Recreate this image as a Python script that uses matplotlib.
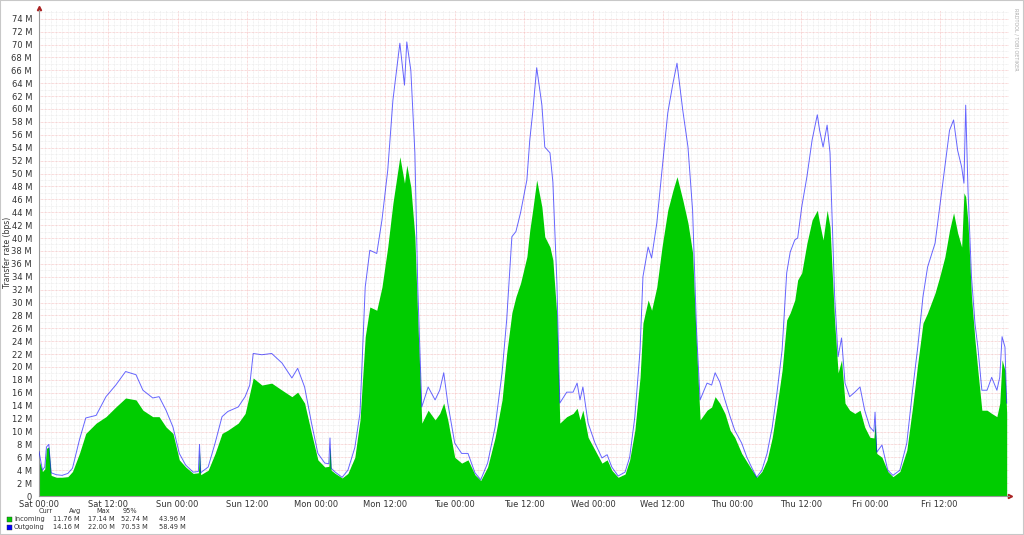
"""
Weekly traffic graph (rrdtool style) - incoming area + outgoing line
"""

import numpy as np
import matplotlib
matplotlib.use("Agg")
import matplotlib.pyplot as plt
from matplotlib.ticker import MultipleLocator, FixedLocator

# ============================================
# DATA (values in Mbps, time in hours since Sat 00:00)
# ============================================
hours = [
    0.0, 0.6, 1.0, 1.3, 1.7, 2.1, 3.0, 4.0, 5.0, 5.8, 7.0, 8.1, 9.9, 11.6, 13.3,
    15.0, 16.8, 18.0, 19.7, 20.8, 22.0, 23.2, 24.3, 25.4, 26.7, 27.6, 27.8, 28.0,
    29.3, 30.5, 31.7, 32.7, 34.5, 35.7, 36.5, 37.1, 38.6, 40.3, 42.1, 43.8, 44.8,
    46.0, 47.2, 48.3, 49.5, 50.2, 50.4, 50.6, 51.3, 52.5, 53.5, 54.7, 55.6, 56.5,
    57.3, 58.5, 59.4, 60.4, 61.3, 62.5, 63.3, 63.7, 64.4, 65.1, 65.6, 66.3, 67.4,
    68.6, 69.4, 70.1, 70.8, 72.0, 73.2, 74.3, 75.5, 76.5, 77.7, 79.0, 80.2, 81.0,
    81.9, 82.6, 83.4, 84.5, 85.0, 85.5, 86.2, 87.1, 87.6, 88.5, 89.0, 89.7, 90.2,
    91.4, 92.5, 93.2, 93.7, 94.2, 95.1, 96.3, 97.5, 98.4, 99.2, 100.3, 101.5,
    102.3, 103.2, 104.1, 104.6, 105.5, 106.1, 107.0, 107.9, 108.9, 109.8, 110.5,
    111.5, 112.4, 113.2, 113.9, 114.5, 115.7, 116.5, 117.1, 117.9, 118.8, 119.7,
    120.5, 121.7, 122.6, 123.5, 124.3, 125.2, 126.1, 127.0, 127.8, 128.7, 129.5,
    130.1, 130.9, 131.4, 132.1, 133.0, 133.9, 134.8, 135.2, 135.8, 136.5, 137.0,
    137.8, 138.4, 139.0, 139.6, 140.4, 141.3, 142.2, 143.0, 143.9, 144.6, 144.8,
    145.1, 146.0, 147.0, 147.9, 149.1, 150.3, 151.3, 152.2, 153.1, 153.9, 155.2,
    156.0, 156.9, 157.7, 158.4, 159.1, 159.8, 160.2, 160.5, 160.9, 161.5, 162.1,
    162.6, 163.3, 164.2, 165.0, 165.9, 166.4, 166.8, 167.3, 167.6,
]

incoming = [
    5.6, 3.8, 4.2, 7.4, 7.6, 3.2, 2.9, 2.9, 3.0, 3.8, 6.6, 9.7, 11.3, 12.3, 13.8,
    15.2, 14.9, 13.3, 12.3, 12.3, 10.7, 9.7, 5.6, 4.5, 3.5, 3.6, 6.9, 3.3,
    4.0, 6.6, 9.7, 10.2, 11.3, 12.8, 15.9, 18.3, 17.2, 17.5, 16.4, 15.4, 16.1,
    14.4, 9.7, 5.6, 4.5, 4.6, 7.6, 4.0, 3.5, 2.8, 3.5, 6.0, 11.8, 24.7,
    29.3, 28.8, 32.4, 38.6, 45.4, 52.6, 48.5, 51.3, 47.9, 40.2, 27.3, 11.3, 13.3,
    11.8, 12.8, 14.4, 11.8, 6.0, 5.1, 5.6, 3.3, 2.4, 4.5, 9.1, 14.9, 22.1,
    28.4, 30.9, 33.0, 37.1, 41.2, 44.3, 49.0, 44.8, 40.2, 38.6, 36.6, 27.8, 11.3,
    12.3, 12.8, 13.6, 11.8, 13.3, 9.1, 7.1, 5.1, 5.6, 4.0, 2.9, 3.4,
    5.6, 10.2, 18.4, 26.8, 30.4, 28.8, 32.4, 38.6, 44.3, 47.4, 49.5,
    45.9, 42.3, 37.7, 22.6, 11.8, 13.3, 13.8, 15.4, 14.4, 12.8, 10.2,
    9.1, 6.6, 5.3, 4.0, 2.9, 3.8, 5.6, 9.1, 13.8, 19.5, 27.3,
    28.4, 30.4, 33.5, 34.6, 39.2, 42.8, 44.3, 42.3, 39.7, 44.3, 41.7,
    27.0, 19.1, 21.1, 14.4, 13.3, 12.8, 13.3, 10.7, 9.1, 9.0, 11.3,
    6.6, 6.0, 3.8, 3.0, 3.8, 7.1, 13.8, 20.6, 26.8, 28.4, 31.5,
    34.0, 37.1, 41.2, 43.9, 40.8, 38.6, 47.0, 46.4, 42.3, 30.9, 24.2,
    19.5, 13.3, 13.3, 12.8, 12.3, 14.4, 21.1, 19.5, 12.8,
]

outgoing = [
    6.9, 4.0, 4.5, 7.6, 8.0, 3.6, 3.3, 3.2, 3.5, 4.3, 8.7, 12.1, 12.5, 15.4, 17.2,
    19.3, 18.8, 16.4, 15.2, 15.4, 13.3, 10.7, 6.6, 4.8, 3.7, 3.8, 8.0, 3.6,
    4.5, 8.2, 12.3, 13.1, 13.8, 15.4, 17.2, 22.1, 21.9, 22.1, 20.6, 18.3, 19.8,
    16.9, 11.3, 6.6, 5.1, 5.0, 9.0, 4.3, 3.7, 2.9, 4.0, 7.5, 12.9, 32.4,
    38.1, 37.6, 42.8, 50.5, 61.4, 70.2, 63.7, 70.4, 66.0, 53.2, 32.4, 13.8, 16.9,
    14.9, 16.4, 19.1, 14.4, 8.2, 6.6, 6.6, 3.6, 2.5, 5.1, 10.7, 19.1, 27.3,
    40.2, 41.0, 43.9, 49.0, 55.2, 59.4, 66.4, 60.6, 54.1, 53.2, 48.7, 33.0, 14.4,
    16.1, 16.1, 17.5, 14.9, 16.9, 11.3, 8.2, 5.9, 6.4, 4.5, 3.1, 3.7,
    6.0, 12.3, 22.6, 34.0, 38.6, 36.9, 42.3, 50.5, 59.4, 64.0, 67.1,
    59.8, 54.1, 44.3, 25.3, 14.9, 17.5, 17.2, 19.1, 17.7, 14.9, 12.3,
    10.2, 8.2, 6.0, 4.3, 2.9, 4.0, 6.6, 10.7, 15.9, 22.6, 34.6,
    37.8, 39.7, 40.0, 44.8, 49.5, 55.2, 59.1, 56.7, 54.1, 57.5, 53.2,
    31.0, 21.6, 24.5, 17.5, 15.4, 16.1, 16.9, 13.3, 10.7, 10.0, 13.0,
    6.8, 7.9, 4.0, 3.2, 4.0, 8.2, 16.4, 23.1, 30.9, 35.5, 39.2,
    44.8, 51.0, 56.7, 58.3, 53.6, 51.0, 48.5, 60.6, 47.4, 34.0, 26.8,
    23.1, 16.4, 16.4, 18.4, 16.4, 18.4, 24.7, 23.1, 14.4,
]

tick_labels = [
    "Sat 00:00", "Sat 12:00", "Sun 00:00", "Sun 12:00", "Mon 00:00",
    "Mon 12:00", "Tue 00:00", "Tue 12:00", "Wed 00:00", "Wed 12:00",
    "Thu 00:00", "Thu 12:00", "Fri 00:00", "Fri 12:00",
]

stat_headers = ["Curr", "Avg", "Max", "95%"]
incoming_stats = ["11.76 M", "17.14 M", "52.74 M", "43.96 M"]
outgoing_stats = ["14.16 M", "22.00 M", "70.53 M", "58.49 M"]

GREEN = "#00cc00"
BLUE = "#0000ff"
TXT = "#333333"

W, H = 1024, 535


def px(x, y):
    # image pixel -> figure fraction
    return x / W, 1 - y / H


# ============================================
# FIGURE + AXES
# ============================================
fig = plt.figure(figsize=(W / 100, H / 100), dpi=100)
fig.patch.set_facecolor("white")

ax_l, ax_r, ax_t, ax_b = 39, 1009, 10, 496
ax = fig.add_axes([ax_l / W, 1 - ax_b / H, (ax_r - ax_l) / W, (ax_b - ax_t) / H])
ax.set_facecolor("white")

px_per_m = 6.45
ax.set_xlim(0, 168)
ax.set_ylim(0, (ax_b - ax_t) / px_per_m)

# grid - minor grey, major pinkish like rrdtool
ax.yaxis.set_minor_locator(MultipleLocator(1))
ax.yaxis.set_major_locator(MultipleLocator(2))
ax.xaxis.set_minor_locator(MultipleLocator(1))
ax.xaxis.set_major_locator(FixedLocator(np.arange(0, 168, 12)))
ax.grid(which="minor", color="#e6e6e6", linewidth=0.5, linestyle=(0, (1, 1)))
ax.grid(which="major", color="#f3b5b5", linewidth=0.5, linestyle=(0, (1, 1)))
ax.set_axisbelow(True)

# data
ax.fill_between(hours, incoming, 0, color=GREEN, linewidth=0, zorder=2)
ax.plot(hours, outgoing, color=BLUE, linewidth=0.7, alpha=0.6, zorder=3)

# ticks
yt = np.arange(0, 75, 2)
ax.set_yticks(yt)
ax.set_yticklabels(["0"] + [f"{v} M" for v in yt[1:]])
ax.set_xticks(np.arange(0, 168, 12))
ax.set_xticklabels(tick_labels)
ax.tick_params(axis="both", which="both", length=0, labelsize=6, colors=TXT, pad=3)
ax.tick_params(axis="y", pad=5)

for side in ["top", "right"]:
    ax.spines[side].set_visible(False)
for side in ["left", "bottom"]:
    ax.spines[side].set_color("#999999")
    ax.spines[side].set_linewidth(0.8)

# red axis arrows
ax.plot([0], [ax.get_ylim()[1] + 0.3], marker="^", color="#aa2222", markersize=3, clip_on=False)
ax.plot([168.2], [0], marker=">", color="#aa2222", markersize=3, clip_on=False)

# y label
fig.text(*px(8, 252), "Transfer rate (bps)", rotation=90, ha="center", va="center",
         fontsize=5.5, color=TXT)

# signature on right side
fig.text(*px(1016, 8), "RRDTOOL / TOBI OETIKER", rotation=270, ha="center", va="top",
         fontsize=3.5, color="#aaaaaa")

# ============================================
# LEGEND
# ============================================
fs = 4.8
head_x = [39, 69, 96, 123]
for hx, h in zip(head_x, stat_headers):
    fig.text(*px(hx, 511), h, ha="left", va="center", fontsize=fs, color=TXT)

val_x = [53, 88, 121, 159]
rows = [("Incoming", GREEN, incoming_stats, 519), ("Outgoing", BLUE, outgoing_stats, 527)]
for name, col, stats, ry in rows:
    sx, sy = px(7, ry + 2.5)
    fig.patches.append(plt.Rectangle((sx, sy), 5 / W, 5 / H, transform=fig.transFigure,
                                     facecolor=col, edgecolor="#333333", linewidth=0.3))
    fig.text(*px(14, ry), name, ha="left", va="center", fontsize=fs, color=TXT)
    for vx, s in zip(val_x, stats):
        fig.text(*px(vx, ry), s, ha="left", va="center", fontsize=fs, color=TXT)

# outer frame
fig.patches.append(plt.Rectangle((0, 0), 1, 1, transform=fig.transFigure, fill=False,
                                 edgecolor="#c8c8c8", linewidth=1.5))

fig.savefig("out.png", dpi=100)
